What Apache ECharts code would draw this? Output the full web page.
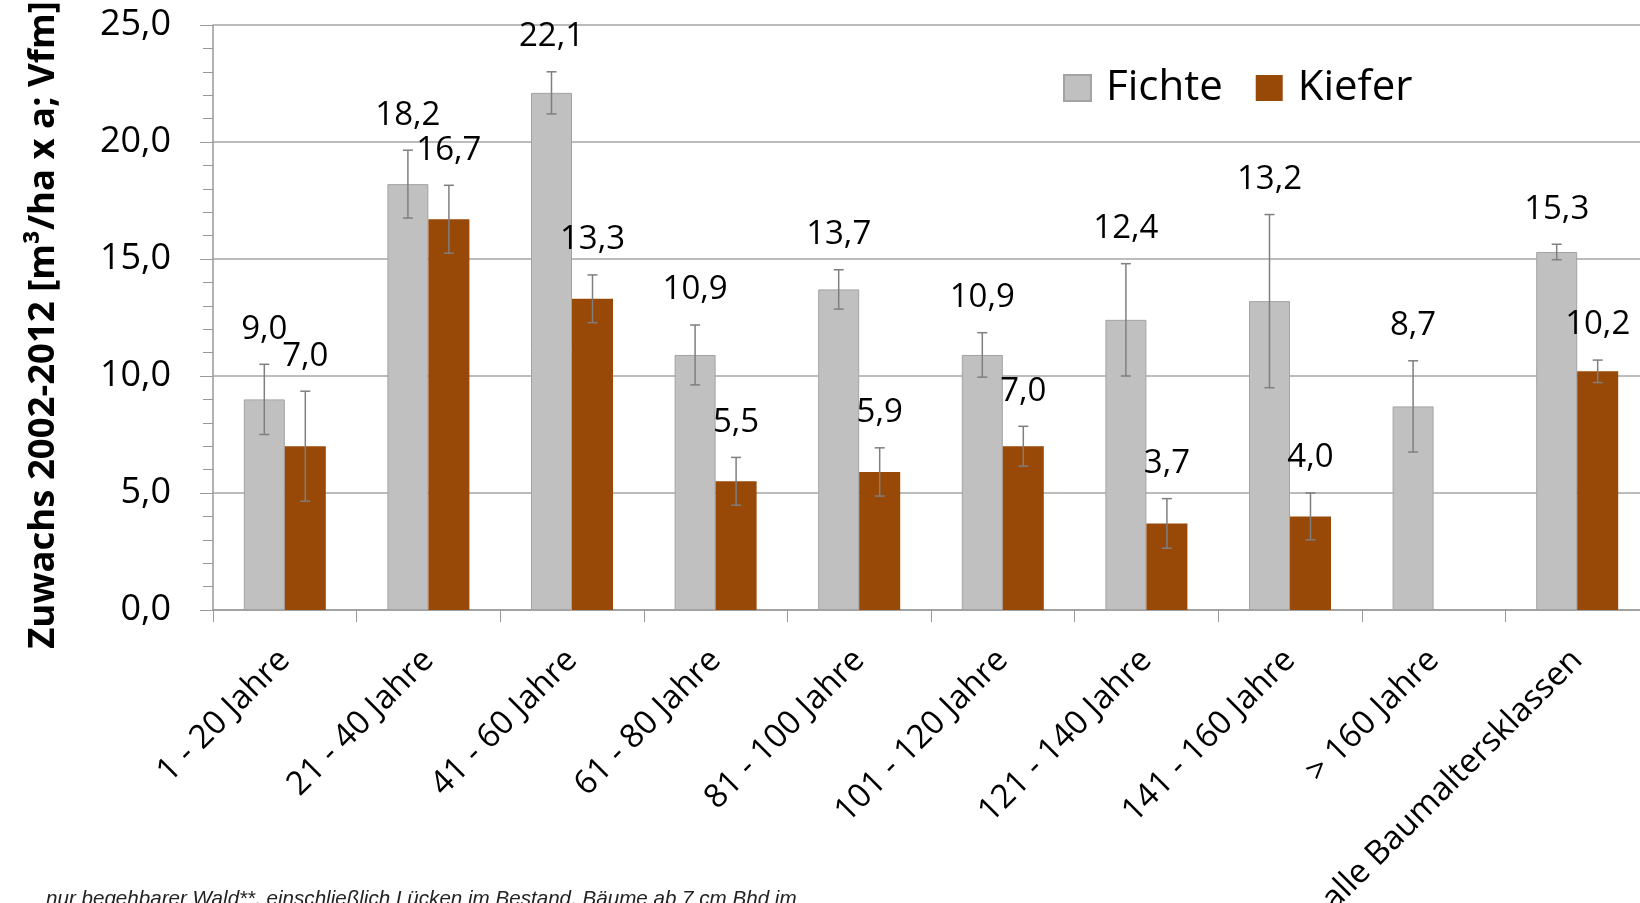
<!DOCTYPE html>
<html>
<head>
<meta charset="utf-8">
<script src="https://cdn.jsdelivr.net/npm/echarts@6/dist/echarts.min.js"></script>
<style>
  html, body { margin: 0; padding: 0; background: #fff; }
  #chart { width: 1640px; height: 903px; }
</style>
</head>
<body>
<div id="chart"></div>
<script>
const categories = ['1 - 20 Jahre', '21 - 40 Jahre', '41 - 60 Jahre', '61 - 80 Jahre', '81 - 100 Jahre',
    '101 - 120 Jahre', '121 - 140 Jahre', '141 - 160 Jahre', '> 160 Jahre', 'alle Baumaltersklassen'];
const fichte = [9.0, 18.2, 22.1, 10.9, 13.7, 10.9, 12.4, 13.2, 8.7, 15.3];
const kiefer = [7.0, 16.7, 13.3, 5.5, 5.9, 7.0, 3.7, 4.0, null, 10.2];
// half width of the error bars
const fichteErr = [1.5, 1.45, 0.9, 1.28, 0.84, 0.95, 2.4, 3.7, 1.95, 0.33];
const kieferErr = [2.35, 1.45, 1.02, 1.02, 1.03, 0.85, 1.06, 1.0, null, 0.48];

const BAR_W = 41;
const font = '"Open Sans", "DejaVu Sans", sans-serif';
const fmt = v => v.toFixed(1).replace('.', ',');

function errRows(values, errs) {
    const rows = [];
    values.forEach((v, i) => {
        if (v == null) return;
        rows.push([i, v - errs[i], v + errs[i], v]);
    });
    return rows;
}

function errRenderer(shift) {
    return function (params, api) {
        const cat = api.value(0);
        const x = api.coord([cat, 0])[0] + shift;
        const lo = api.coord([cat, api.value(1)])[1];
        const hi = api.coord([cat, api.value(2)])[1];
        const st = { stroke: '#7f7f7f', lineWidth: 1.5 };
        return {
            type: 'group',
            children: [
                { type: 'line', shape: { x1: x, y1: lo, x2: x, y2: hi }, style: st },
                { type: 'line', shape: { x1: x - 5, y1: lo, x2: x + 5, y2: lo }, style: st },
                { type: 'line', shape: { x1: x - 5, y1: hi, x2: x + 5, y2: hi }, style: st },
                {
                    type: 'text',
                    style: {
                        text: fmt(api.value(3)), x: x, y: hi - 35,
                        align: 'center', verticalAlign: 'middle',
                        fontSize: 33, fontFamily: font, fill: '#000'
                    }
                }
            ]
        };
    };
}

const chart = echarts.init(document.getElementById('chart'), null, {renderer: 'canvas'});
const option = {
    animation: false,
    backgroundColor: '#fff',
    grid: { left: 213, top: 25, width: 1436, height: 585, containLabel: false, outerBoundsMode: 'none' },
    legend: {
        data: ['Fichte', 'Kiefer'],
        left: 1058,
        top: 62,
        icon: 'rect',
        itemWidth: 27,
        itemHeight: 26,
        itemGap: 33,
        textStyle: { fontSize: 42, fontFamily: font, color: '#000', padding: [0, 0, 0, 10] }
    },
    xAxis: {
        type: 'category',
        data: categories,
        axisLine: { lineStyle: { color: '#999', width: 1.5 } },
        axisTick: { show: true, length: 12, lineStyle: { color: '#999' } },
        axisLabel: {
            interval: 0, rotate: 45, margin: 45,
            align: 'right', verticalAlign: 'middle',
            fontSize: 33, fontFamily: font, color: '#000'
        }
    },
    yAxis: {
        type: 'value',
        min: 0,
        max: 25,
        interval: 5,
        name: 'Zuwachs 2002-2012 [m³/ha x a; Vfm]',
        nameLocation: 'middle',
        nameRotate: 90,
        nameGap: 151,
        nameTextStyle: {
            fontSize: 36.5, fontWeight: 'bold', fontFamily: font, color: '#000',
            padding: [0, 15, 0, 0]
        },
        axisLine: { show: true, lineStyle: { color: '#999', width: 1.5 } },
        axisTick: { show: true, length: 13, lineStyle: { color: '#999' } },
        minorTick: { show: true, splitNumber: 5, length: 10, lineStyle: { color: '#999' } },
        splitLine: { lineStyle: { color: '#a6a6a6', width: 1.5 } },
        axisLabel: { formatter: fmt, fontSize: 36, fontFamily: font, color: '#000', margin: 42 }
    },
    series: [
        {
            name: 'Fichte',
            type: 'bar',
            data: fichte,
            barWidth: BAR_W,
            barGap: '0%',
            itemStyle: { color: '#c0c0c0', borderColor: '#a3a3a3', borderWidth: 1 }
        },
        {
            name: 'Kiefer',
            type: 'bar',
            data: kiefer,
            barWidth: BAR_W,
            barGap: '0%',
            itemStyle: { color: '#984807' }
        },
        {
            name: 'Fichte Fehler',
            type: 'custom',
            clip: false,
            z: 5,
            renderItem: errRenderer(-BAR_W / 2),
            data: errRows(fichte, fichteErr)
        },
        {
            name: 'Kiefer Fehler',
            type: 'custom',
            clip: false,
            z: 5,
            renderItem: errRenderer(BAR_W / 2),
            data: errRows(kiefer, kieferErr)
        }
    ],
    graphic: [
        {
            type: 'text',
            left: 46,
            top: 889,
            style: {
                text: 'nur begehbarer Wald**, einschließlich Lücken im Bestand, Bäume ab 7 cm Bhd im',
                fontSize: 20.6,
                fontStyle: 'italic',
                fontFamily: '"Liberation Sans", Arial, sans-serif',
                fill: '#222'
            }
        }
    ]
};
chart.setOption(option);
</script>
</body>
</html>
